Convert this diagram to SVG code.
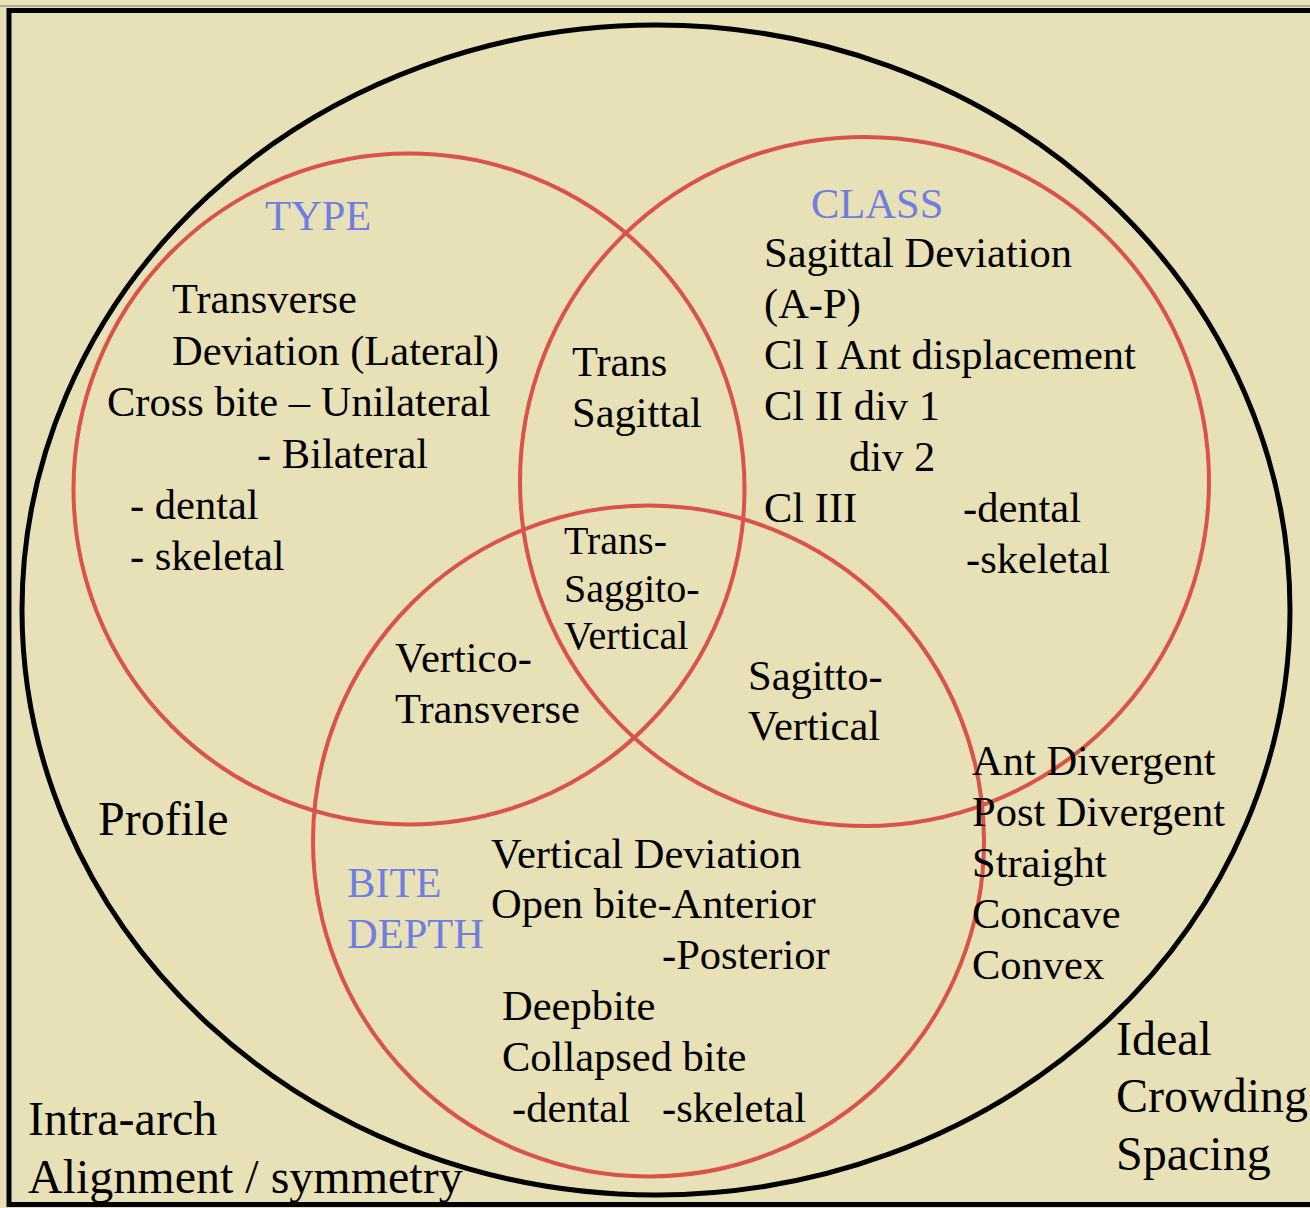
<svg xmlns="http://www.w3.org/2000/svg" width="1310" height="1208" viewBox="0 0 1310 1208">
  <style>
    .t { font-family: "Liberation Serif", "Times New Roman", serif; font-size: 42.5px; fill: #000; }
    .big { font-size: 48px; }
    .mid { font-size: 40px; }
    .head { fill: #6F7FE0; }
    .ring { fill: none; stroke: #D9534A; stroke-width: 4; }
  </style>

  <!-- page background and frame -->
  <rect x="0" y="0" width="1310" height="1208" fill="#E8E1B7"/>
  <line x1="0" y1="6" x2="1310" y2="6" stroke="#7A7350" stroke-width="1"/>
  <rect x="9" y="10.5" width="1320" height="1194" fill="none" stroke="#000" stroke-width="5"/>

  <!-- overall boundary -->
  <g id="malocclusion-boundary">
    <ellipse cx="656" cy="610" rx="634" ry="585" fill="none" stroke="#000" stroke-width="5"/>
  </g>

  <!-- three overlapping sets -->
  <g id="type-set">
    <circle class="ring" cx="409" cy="489" r="335.5"/>
    <text class="t head" x="265" y="230">TYPE</text>
    <text class="t" x="172" y="313">Transverse</text>
    <text class="t" x="172" y="365">Deviation (Lateral)</text>
    <text class="t" x="107" y="416">Cross bite – Unilateral</text>
    <text class="t" x="257" y="468">- Bilateral</text>
    <text class="t" x="130" y="519">- dental</text>
    <text class="t" x="130" y="570">- skeletal</text>
  </g>

  <g id="class-set">
    <circle class="ring" cx="864.5" cy="481.5" r="344.5"/>
    <text class="t head" x="811" y="218">CLASS</text>
    <text class="t" x="764" y="267">Sagittal Deviation</text>
    <text class="t" x="764" y="318">(A-P)</text>
    <text class="t" x="764" y="369">Cl I Ant displacement</text>
    <text class="t" x="764" y="420">Cl II div 1</text>
    <text class="t" x="849" y="471">div 2</text>
    <text class="t" x="764" y="522">Cl III</text>
    <text class="t" x="963" y="522">-dental</text>
    <text class="t" x="966" y="573">-skeletal</text>
  </g>

  <g id="bite-depth-set">
    <circle class="ring" cx="648.5" cy="841" r="335.5"/>
    <text class="t head" x="347" y="897">BITE</text>
    <text class="t head" x="347" y="948">DEPTH</text>
    <text class="t" x="491" y="868">Vertical Deviation</text>
    <text class="t" x="491" y="918">Open bite-Anterior</text>
    <text class="t" x="662" y="969">-Posterior</text>
    <text class="t" x="502" y="1020">Deepbite</text>
    <text class="t" x="502" y="1071">Collapsed bite</text>
    <text class="t" x="512" y="1122">-dental</text>
    <text class="t" x="662" y="1122">-skeletal</text>
  </g>

  <!-- overlap labels -->
  <g id="trans-sagittal">
    <text class="t" x="572" y="376">Trans</text>
    <text class="t" x="572" y="427">Sagittal</text>
  </g>
  <g id="trans-saggito-vertical">
    <text class="t mid" x="564" y="554">Trans-</text>
    <text class="t mid" x="564" y="602">Saggito-</text>
    <text class="t mid" x="564" y="649">Vertical</text>
  </g>
  <g id="vertico-transverse">
    <text class="t" x="395" y="672">Vertico-</text>
    <text class="t" x="395" y="723">Transverse</text>
  </g>
  <g id="sagitto-vertical">
    <text class="t" x="748" y="690">Sagitto-</text>
    <text class="t" x="748" y="740">Vertical</text>
  </g>

  <!-- profile -->
  <g id="profile">
    <text class="t big" x="98" y="835">Profile</text>
    <text class="t" x="972" y="775">Ant Divergent</text>
    <text class="t" x="972" y="826">Post Divergent</text>
    <text class="t" x="972" y="877">Straight</text>
    <text class="t" x="972" y="928">Concave</text>
    <text class="t" x="972" y="979">Convex</text>
  </g>

  <!-- intra-arch -->
  <g id="intra-arch">
    <text class="t big" x="28" y="1135">Intra-arch</text>
    <text class="t big" x="28" y="1193">Alignment / symmetry</text>
  </g>
  <g id="arch-spacing">
    <text class="t big" x="1116" y="1055">Ideal</text>
    <text class="t big" x="1116" y="1112">Crowding</text>
    <text class="t big" x="1116" y="1170">Spacing</text>
  </g>
</svg>
